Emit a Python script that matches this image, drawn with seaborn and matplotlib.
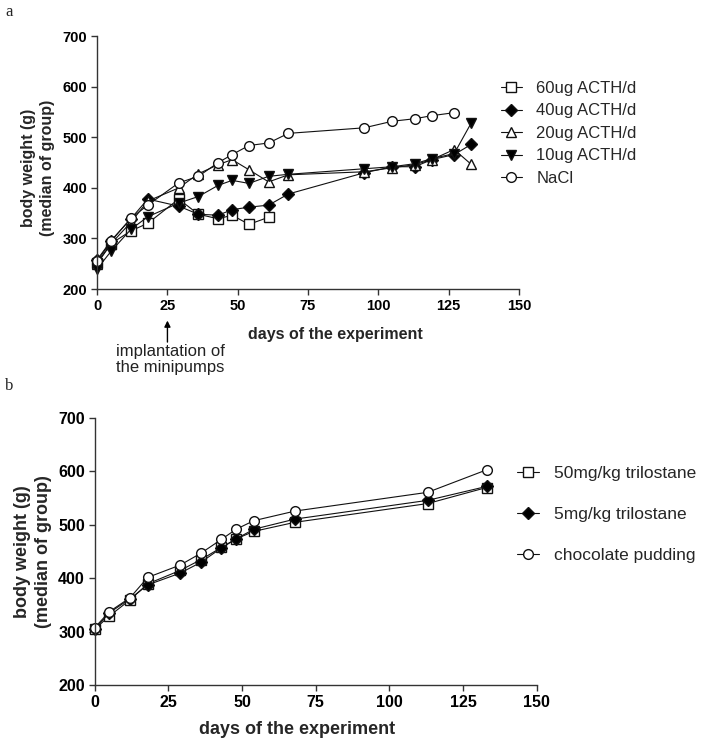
import numpy as np
import pandas as pd
import matplotlib
matplotlib.use("Agg")
import matplotlib.pyplot as plt
import seaborn as sns

# panel a: ACTH minipumps
days_a = [0, 5, 12, 18, 29, 36, 43, 48, 54, 61, 68, 95, 105, 113, 119, 127, 133]
acth60 = [252, 290, 315, 330, 378, 348, 339, 346, 328, 342]
acth40 = [258, 296, 339, 378, 364, 348, 346, 357, 362, 366, 388, 430, 442, 442, 456, 466, 486]
acth20 = [250, 290, 332, 374, 400, 428, 446, 456, 436, 412, 426, 432, 440, 446, 456, 476, 447]
acth10 = [240, 275, 318, 343, 370, 383, 405, 415, 409, 423, 427, 438, 442, 448, 458, 468, 528]
nacl = [255, 295, 340, 366, 410, 423, 450, 466, 484, 489, 508, 519, 532, 537, 543, 549]

# panel b: trilostane
days_b = [0, 5, 12, 18, 29, 36, 43, 48, 54, 68, 113, 133]
tril50 = [305, 330, 360, 390, 415, 435, 458, 474, 488, 505, 540, 570]
tril5 = [305, 336, 362, 388, 410, 430, 457, 474, 492, 511, 546, 572]
pudding = [308, 338, 364, 402, 425, 447, 473, 492, 508, 526, 561, 603]

x_ticks = [0, 25, 50, 75, 100, 125, 150]
y_ticks = [200, 300, 400, 500, 600, 700]

sns.set_style("ticks")
plt.rcParams["font.family"] = ["Liberation Sans", "DejaVu Sans"]

fig = plt.figure(figsize=(7.04, 7.42), dpi=100)
ax_a = fig.add_axes([0.138, 0.6105, 0.599, 0.3405])
ax_b = fig.add_axes([0.1345, 0.0762, 0.6278, 0.3605])

series_a = [
    ("60ug ACTH/d", acth60, "s", "white", 6.5),
    ("40ug ACTH/d", acth40, "D", "black", 6.5),
    ("20ug ACTH/d", acth20, "^", "white", 7),
    ("10ug ACTH/d", acth10, "v", "black", 7),
    ("NaCl", nacl, "o", "white", 7),
]
series_b = [
    ("50mg/kg trilostane", tril50, "s", "white", 6.5),
    ("5mg/kg trilostane", tril5, "D", "black", 6.5),
    ("chocolate pudding", pudding, "o", "white", 7),
]


def draw_panel(ax, days, series, tick_fs, label_fs):
    for label, vals, mk, fc, ms in series:
        sns.lineplot(x=days[:len(vals)], y=vals, ax=ax, color="#111111",
                     linewidth=0.8, marker=mk, markersize=ms,
                     markerfacecolor=fc, markeredgecolor="#111111",
                     markeredgewidth=1.0, label=label, clip_on=False)
    ax.set_xlim(0, 150)
    ax.set_ylim(200, 700)
    ax.set_xticks(x_ticks)
    ax.set_yticks(y_ticks)
    ax.tick_params(direction="out", length=4, width=1, colors="#333333",
                   labelcolor="black", labelsize=tick_fs, pad=3)
    plt.setp(ax.get_xticklabels() + ax.get_yticklabels(), fontweight="bold")
    for s in ["left", "bottom"]:
        ax.spines[s].set_linewidth(1.0)
        ax.spines[s].set_color("#333333")
    sns.despine(ax=ax)
    ax.set_xlabel("days of the experiment", fontsize=label_fs, fontweight="bold")
    ax.set_ylabel("body weight (g)\n(median of group)", fontsize=label_fs,
                  fontweight="bold", linespacing=1.3)


draw_panel(ax_a, days_a, series_a, 10.5, 11.5)
draw_panel(ax_b, days_b, series_b, 11.5, 13)

ax_a.xaxis.set_label_coords(0.564, -0.152)
ax_a.yaxis.set_label_coords(-0.1, 0.48)
ax_b.xaxis.set_label_coords(0.457, -0.134)
ax_b.yaxis.set_label_coords(-0.097, 0.5)

ax_a.legend(loc="upper left", bbox_to_anchor=(0.711, 0.891),
            bbox_transform=fig.transFigure, frameon=False, fontsize=12,
            borderaxespad=0, borderpad=0, handlelength=1.3,
            handletextpad=0.85, labelspacing=0.45)
ax_b.legend(loc="upper left", bbox_to_anchor=(0.734, 0.3725),
            bbox_transform=fig.transFigure, frameon=False, fontsize=12.5,
            borderaxespad=0, borderpad=0, handlelength=1.3,
            handletextpad=0.85, labelspacing=1.5)

# implantation marker below the x axis of panel a
trans = ax_a.get_xaxis_transform()
ax_a.annotate("", xy=(25, -0.125), xytext=(25, -0.21), xycoords=trans,
              textcoords=trans, annotation_clip=False,
              arrowprops=dict(arrowstyle="-|>", color="black", lw=1,
                              mutation_scale=9, shrinkA=0, shrinkB=0))
ax_a.text(6.7, -0.217, "implantation of\nthe minipumps", transform=trans,
          ha="left", va="top", fontsize=12, linespacing=1.1, color="#222222")

fig.text(0.007, 0.978, "a", family="Liberation Serif", fontsize=12, va="baseline")
fig.text(0.007, 0.4744, "b", family="Liberation Serif", fontsize=12, va="baseline")

fig.savefig("out.png", dpi=100)
